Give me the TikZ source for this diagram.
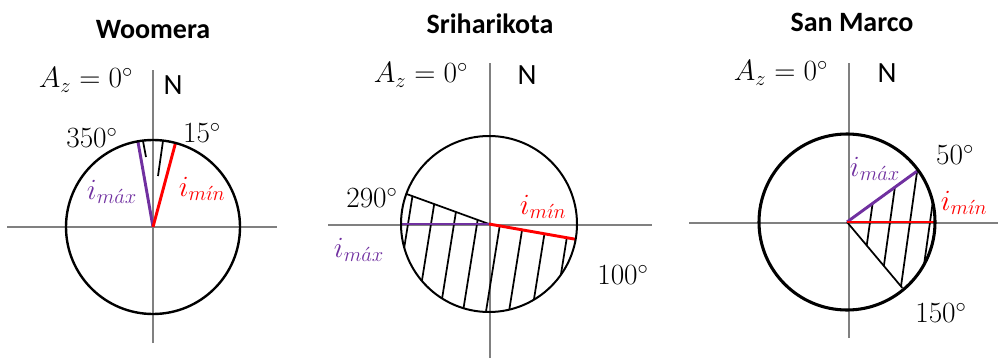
\documentclass[tikz,border=0pt]{standalone}
\usepackage{fix-cm}
\usepackage{fontspec}
\setsansfont{Carlito}
\usepackage{xcolor}
\usepackage{tikz}
\definecolor{maxpurple}{HTML}{7030A0}

\begin{document}
\begin{tikzpicture}[
    x=0.75pt, y=0.75pt,
    axis/.style={draw=gray, line width=0.9pt},
    rim/.style={draw, line width=1.8pt},
    hatch/.style={draw, line width=1.3pt},
    imax/.style={draw=maxpurple, line width=2.2pt},
    imin/.style={draw=red, line width=2.2pt},
    title/.style={font=\sffamily\bfseries\fontsize{21}{24}\selectfont},
    lab/.style={font=\fontsize{22}{26}\selectfont, inner sep=0pt},
    north/.style={font=\sffamily\fontsize{22}{26}\selectfont, inner sep=0pt}
]
\useasboundingbox (0,0) rectangle (998,358);

% Woomera
\coordinate (cw) at (153,131);
\draw[axis] (153,15) -- (153,288);
\draw[axis] (7,131) -- (277,131);
\draw[hatch] (143,217) -- (146,201);
\draw[hatch] (163,217) -- (158,182);
\draw[imax] (cw) -- ++(100:87);
\draw[imin] (cw) -- ++(75:87);
\draw[rim] (cw) circle[radius=87];
\node[title] (woomera) at (153,328) {Woomera};
\node[lab] (azw) at (86,278) {$A_z = 0^\circ$};
\node[north] (nw) at (173,273) {N};
\node[lab] (w350) at (92,220) {$350^\circ$};
\node[lab] (w15) at (202,225) {$15^\circ$};
\node[lab, text=maxpurple] (wmax) at (112,166) {$i_{m\acute{a}x}$};
\node[lab, text=red] (wmin) at (202,169) {$i_{m\acute{\imath}n}$};

% Sriharikota
\coordinate (cs) at (489,134);
\draw[axis] (490,0) -- (490,295);
\draw[axis] (328,133) -- (652,133);
\begin{scope}
  \clip (cs) -- ++(-10:88) arc[start angle=-10, end angle=-200, radius=88] -- cycle;
  \foreach \d in {-81,-58,...,80}
    \draw[hatch] (cs) ++(\d-16,-100) -- ++(32,200);
\end{scope}
\draw[hatch] (cs) -- ++(160:88);
\draw[imax] (cs) -- ++(180:88);
\draw[imin] (cs) -- ++(-10:88);
\draw[rim, line width=1.5pt] (cs) circle[radius=88];
\node[title] (sriharikota) at (490,334) {Sriharikota};
\node[lab] (azs) at (421,283) {$A_z = 0^\circ$};
\node[north] (ns) at (527,283) {N};
\node[lab] (s290) at (372,160) {$290^\circ$};
\node[lab] (s100) at (623,83) {$100^\circ$};
\node[lab, text=maxpurple] (smax) at (359,108) {$i_{m\acute{a}x}$};
\node[lab, text=red] (smin) at (543,151) {$i_{m\acute{\imath}n}$};

% San Marco
\coordinate (cm) at (847,136);
\draw[axis] (849,20) -- (849,295);
\draw[axis] (689,135) -- (998,135);
\begin{scope}
  \clip (cm) -- ++(36:88) arc[start angle=36, end angle=-50, radius=88] -- cycle;
  \foreach \d in {23,43,63,83}
    \draw[hatch] (cm) ++(\d-14,-100) -- ++(28,200);
\end{scope}
\draw[hatch] (cm) -- ++(-50:86);
\draw[imax] (cm) -- ++(36:88);
\draw[imin] (cm) -- ++(0:88);
\draw[rim, line width=2.3pt] (cm) circle[radius=88];
\node[title] (sanmarco) at (852,336) {San Marco};
\node[lab] (azm) at (781,285) {$A_z = 0^\circ$};
\node[north] (nm) at (887,285) {N};
\node[lab] (m50) at (955,203) {$50^\circ$};
\node[lab] (m150) at (941,45) {$150^\circ$};
\node[lab, text=maxpurple] (mmax) at (875,189) {$i_{m\acute{a}x}$};
\node[lab, text=red] (mmin) at (964,155) {$i_{m\acute{\imath}n}$};
\end{tikzpicture}
\end{document}
